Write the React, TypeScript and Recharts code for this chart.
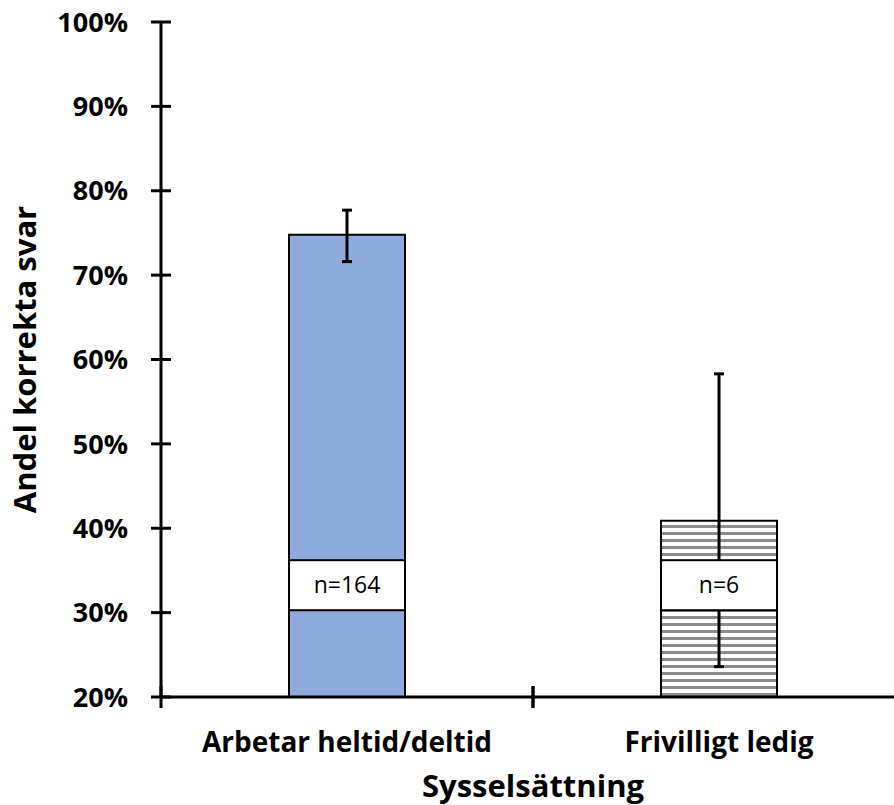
import { ComposedChart, Bar, Cell, ErrorBar, Scatter, XAxis, YAxis, Label } from "recharts"

const categories = ["Arbetar heltid/deltid", "Frivilligt ledig"]
const shares = [0.748, 0.409]
const errors: [number, number][] = [
    [0.032, 0.029],
    [0.173, 0.174],
]
const counts = ["n=164", "n=6"]
const countLabelPos = [0.3325, 0.3325]
const yTicks = [0.2, 0.3, 0.4, 0.5, 0.6, 0.7, 0.8, 0.9, 1.0]

const data = categories.map((name, i) => ({
    name,
    share: shares[i],
    err: errors[i],
    labelPos: countLabelPos[i],
    count: counts[i],
}))

const FONT = "'Open Sans', 'Noto Sans', sans-serif"
const Y_TICK_SIZE = 10
const Y_TICK_MARGIN = 23
const X_TICK_SIZE = 10
const X_TICK_MARGIN = 0

function YTick(props: any) {
    const { x, y, payload } = props
    const axisX = x + Y_TICK_SIZE + Y_TICK_MARGIN
    return (
        <g>
            <line x1={axisX - 10} x2={axisX + 10} y1={y} y2={y} stroke="#000" strokeWidth={3} />
            <text x={x} y={y} dy="0.36em" textAnchor="end" fontFamily={FONT} fontWeight={700} fontSize={27} fill="#000">
                {`${Math.round(payload.value * 100)}%`}
            </text>
        </g>
    )
}

function XTick(props: any) {
    const { x, y, payload, width } = props
    const axisY = y - X_TICK_SIZE - X_TICK_MARGIN
    const band = width / categories.length
    return (
        <g>
            <line x1={x - band / 2} x2={x - band / 2} y1={axisY - 11} y2={axisY + 11} stroke="#000" strokeWidth={3} />
            <line x1={x + band / 2} x2={x + band / 2} y1={axisY - 11} y2={axisY + 11} stroke="#000" strokeWidth={3} />
            <text x={x} y={axisY + 55} textAnchor="middle" fontFamily={FONT} fontWeight={700} fontSize={28} fill="#000">
                {payload.value}
            </text>
        </g>
    )
}

function CountBox(props: any) {
    const { cx, cy, payload } = props
    const w = 116
    const h = 50
    return (
        <g>
            <rect x={cx - w / 2} y={cy - h / 2} width={w} height={h} fill="#fff" stroke="#000" strokeWidth={2} />
            <text x={cx} y={cy} dy="0.36em" textAnchor="middle" fontFamily={FONT} fontSize={23} fill="#000">
                {payload.count}
            </text>
        </g>
    )
}

export default function App() {
    return (
        <div style={{ position: "absolute", left: 0, top: 0, width: 894, height: 805, overflow: "hidden", background: "#fff" }}>
            <ComposedChart width={920} height={805} data={data} margin={{ top: 22, right: 15, left: 0, bottom: 0 }}>
                <defs>
                    <pattern id="stripes" width={8} height={7} patternUnits="userSpaceOnUse">
                        <rect width={8} height={7} fill="#fff" />
                        <rect y={0} width={8} height={3} fill="#8c8c8c" />
                    </pattern>
                </defs>
                <XAxis
                    dataKey="name"
                    height={108}
                    stroke="#000"
                    strokeWidth={3}
                    tickLine={false}
                    tickSize={X_TICK_SIZE}
                    tickMargin={X_TICK_MARGIN}
                    tick={<XTick />}
                    interval={0}
                >
                    <Label
                        content={(p: any) => {
                            const vb = p.viewBox
                            return (
                                <text x={vb.x + vb.width / 2} y={vb.y + 100} textAnchor="middle" fontFamily={FONT} fontWeight={700} fontSize={31} fill="#000">
                                    Sysselsättning
                                </text>
                            )
                        }}
                    />
                </XAxis>
                <YAxis
                    width={161}
                    domain={[0.2, 1]}
                    ticks={yTicks}
                    allowDataOverflow
                    stroke="#000"
                    strokeWidth={3}
                    tickLine={false}
                    tickSize={Y_TICK_SIZE}
                    tickMargin={Y_TICK_MARGIN}
                    tick={<YTick />}
                    interval={0}
                >
                    <Label
                        content={(p: any) => {
                            const vb = p.viewBox
                            const cx = vb.x + 25
                            const cy = vb.y + vb.height / 2
                            return (
                                <text x={cx} y={cy} dy="0.36em" transform={`rotate(-90 ${cx} ${cy})`} textAnchor="middle" fontFamily={FONT} fontWeight={700} fontSize={31} fill="#000">
                                    Andel korrekta svar
                                </text>
                            )
                        }}
                    />
                </YAxis>
                <Bar dataKey="share" barSize={116} stroke="#000" strokeWidth={2} isAnimationActive={false}>
                    <Cell fill="#8faadc" />
                    <Cell fill="url(#stripes)" />
                    <ErrorBar dataKey="err" direction="y" width={5} stroke="#000" strokeWidth={3} />
                </Bar>
                <Scatter dataKey="labelPos" shape={<CountBox />} isAnimationActive={false} />
            </ComposedChart>
        </div>
    )
}
